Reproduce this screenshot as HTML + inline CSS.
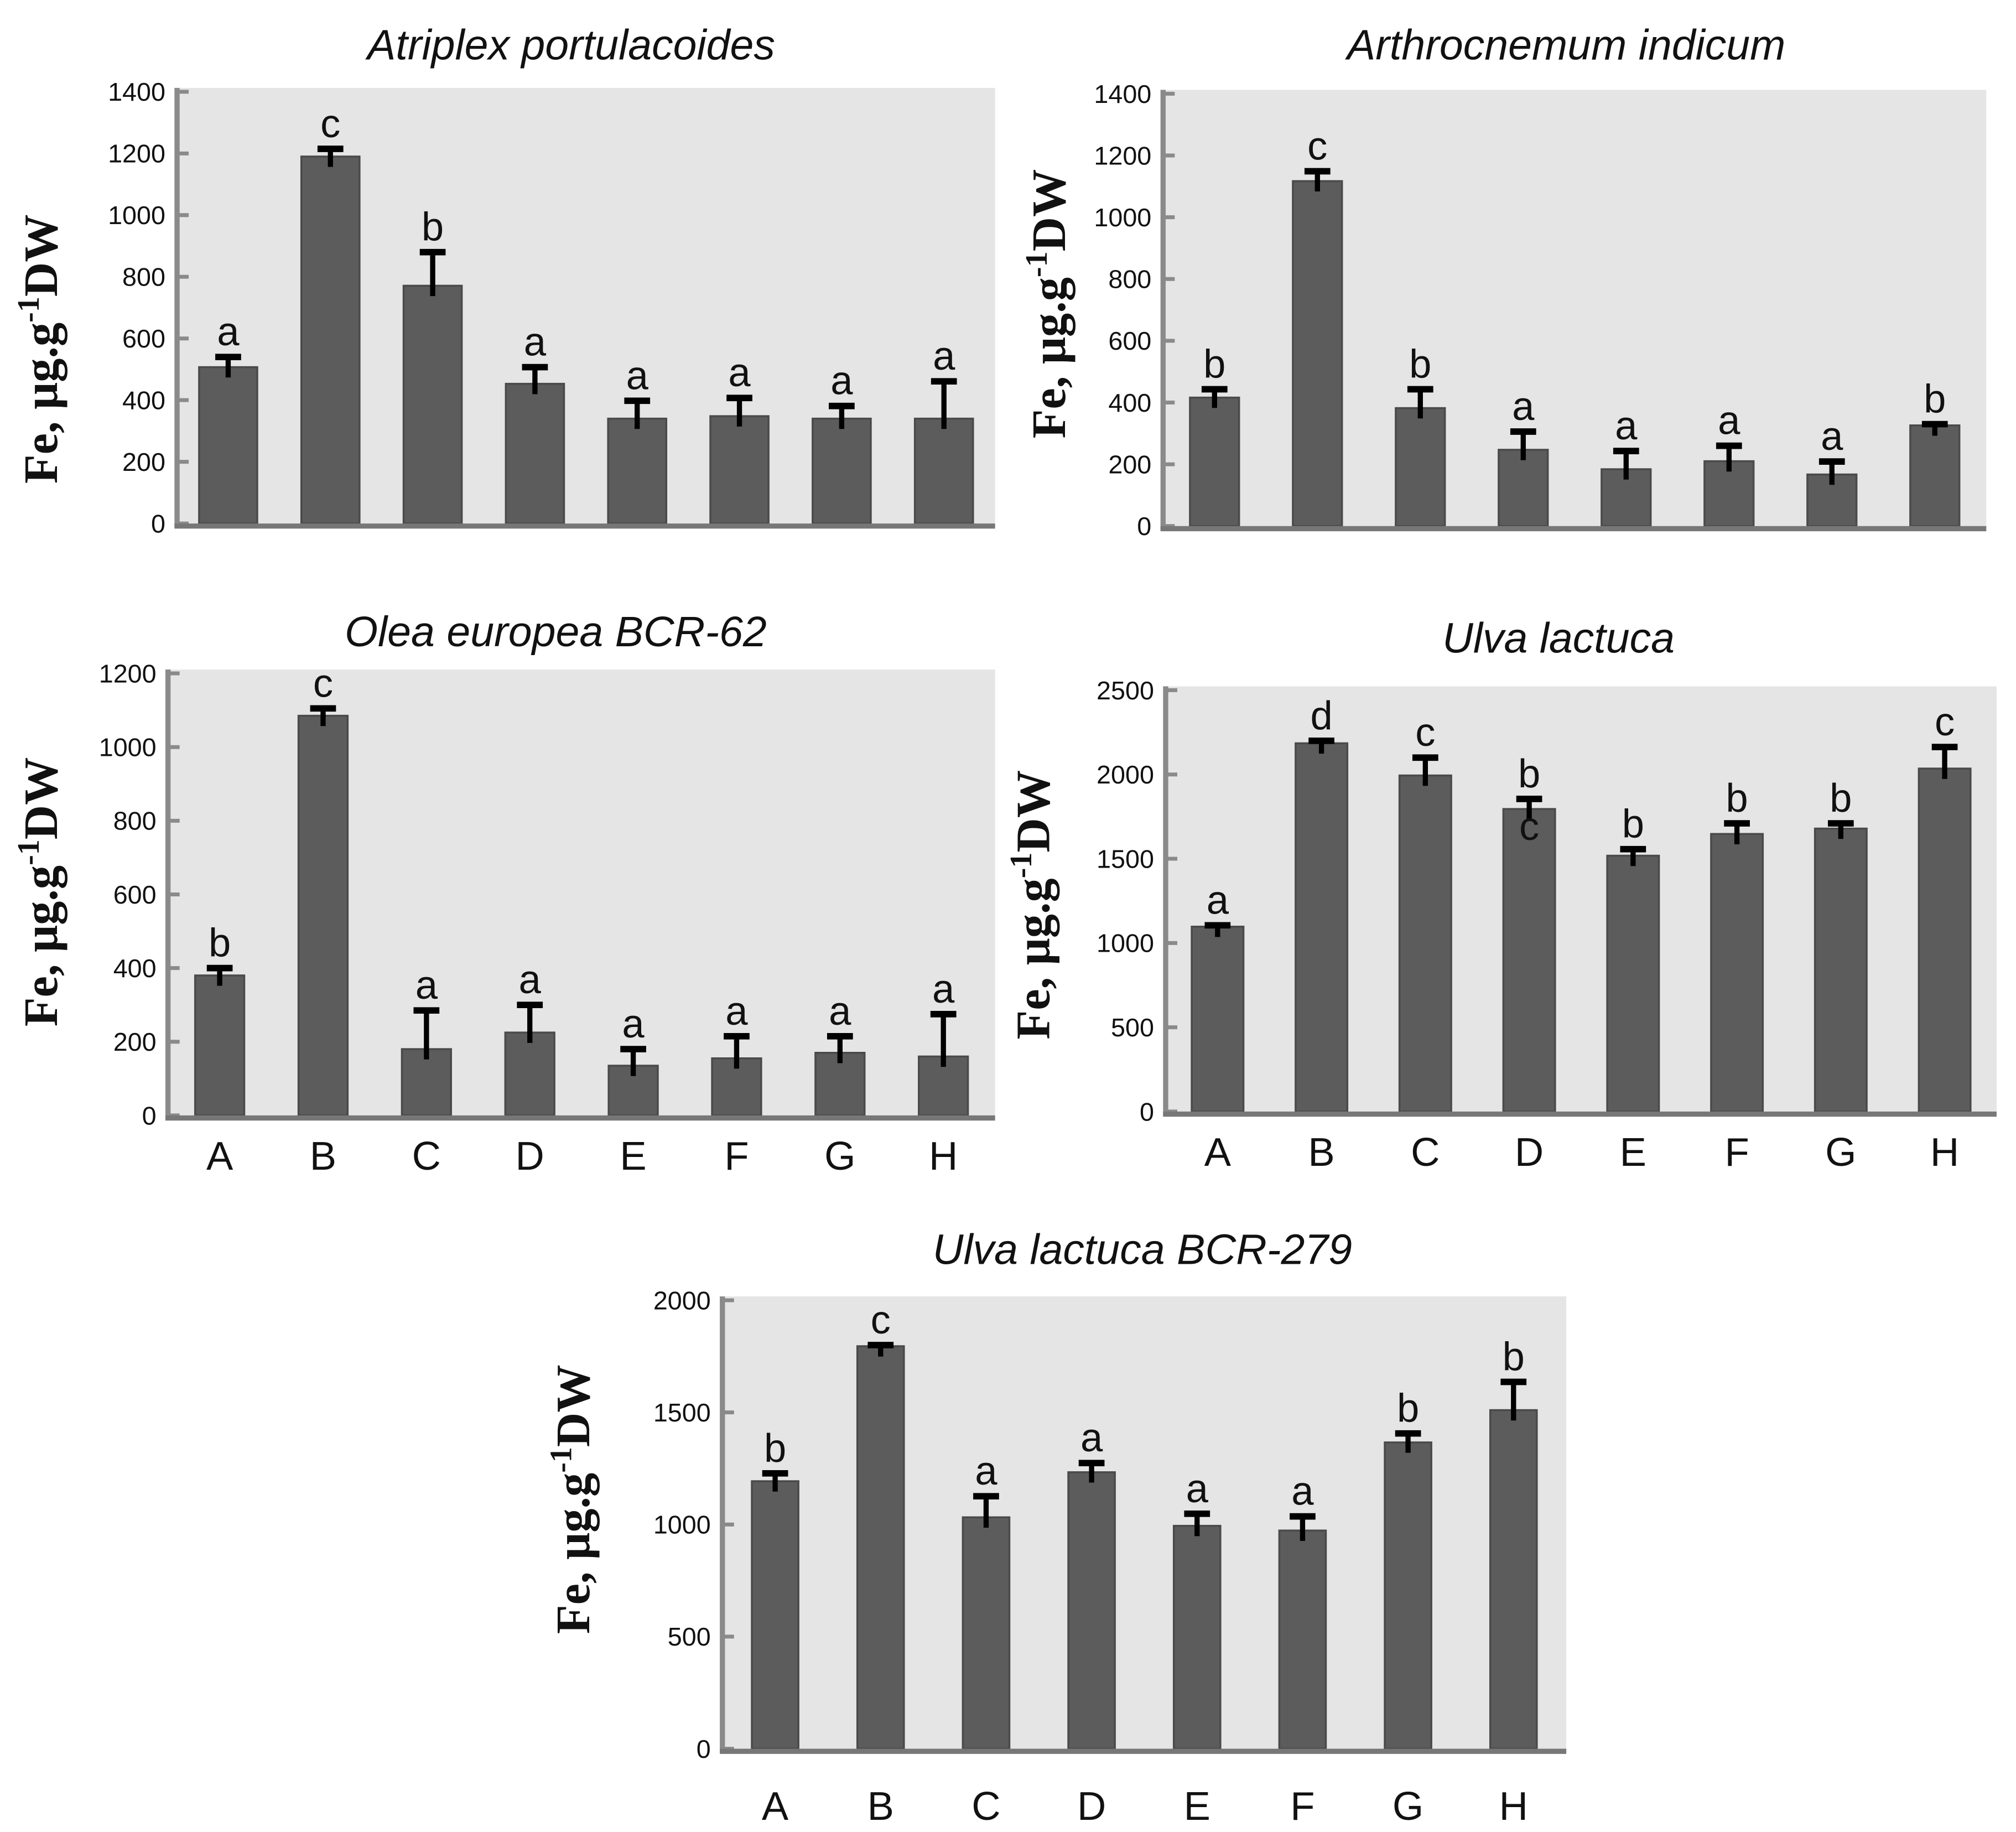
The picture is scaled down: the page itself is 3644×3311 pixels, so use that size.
<!DOCTYPE html>
<html><head><meta charset="utf-8"><style>
html,body{margin:0;padding:0;background:#fff;}
svg{display:block;}
.tick{font-family:"Liberation Sans",sans-serif;font-size:20px;fill:#111;}
.let{font-family:"Liberation Sans",sans-serif;font-size:31px;fill:#111;}
.xl{font-family:"Liberation Sans",sans-serif;font-size:31px;fill:#111;}
.ttl{font-family:"Liberation Sans",sans-serif;font-size:33px;font-style:italic;fill:#111;}
.yt{font-family:"Liberation Serif",serif;font-size:37px;font-weight:bold;fill:#111;}
</style></head><body>
<svg id="fig" width="3644" height="3311" viewBox="0 0 1560 1417.4" xmlns="http://www.w3.org/2000/svg"></svg>
<script>
const categories = ["A","B","C","D","E","F","G","H"];
const p1Values = [507,1190,771,453,340,348,340,340];
const p1Err = [540,1215,880,507,398,407,381,461];
const p1Letters = ["a","c","b","a","a","a","a","a"];
const p1Ticks = [0,200,400,600,800,1000,1200,1400];
const p2Values = [416,1117,382,247,184,210,167,326];
const p2Err = [443,1149,443,306,243,260,209,330];
const p2Letters = ["b","c","b","a","a","a","a","b"];
const p2Ticks = [0,200,400,600,800,1000,1200,1400];
const p3Values = [380,1085,180,225,135,155,170,160];
const p3Err = [400,1105,285,300,180,215,215,275];
const p3Letters = ["b","c","a","a","a","a","a","a"];
const p3Ticks = [0,200,400,600,800,1000,1200];
const p4Values = [1097,2185,1994,1795,1518,1647,1679,2035];
const p4Err = [1105,2200,2100,1855,1557,1710,1710,2163];
const p4Letters = ["a","d","c","b","b","b","b","c"];
const p4Ticks = [0,500,1000,1500,2000,2500];
const p5Values = [1193,1795,1032,1233,994,973,1366,1510];
const p5Err = [1228,1800,1126,1274,1048,1036,1406,1636];
const p5Letters = ["b","c","a","a","a","a","b","b"];
const p5Ticks = [0,500,1000,1500,2000];

const NS="http://www.w3.org/2000/svg";
const svg=document.getElementById('fig');
function mk(tag,attrs,parent){const e=document.createElementNS(NS,tag);for(const k in attrs)e.setAttribute(k,attrs[k]);(parent||svg).appendChild(e);return e;}

const panels=[
 {id:"atriplex",title:"Atriplex portulacoides",tx:442,ty:46,left:137,right:770,y0:405,ytop:71,max:1400,bw:45,vals:p1Values,err:p1Err,lets:p1Letters,ticks:p1Ticks,xlab:false,ytx:44,yty:270,extra:null},
 {id:"arthrocnemum",title:"Arthrocnemum indicum",tx:1212,ty:46,left:900,right:1537,y0:407,ytop:72.5,max:1400,bw:38,vals:p2Values,err:p2Err,lets:p2Letters,ticks:p2Ticks,xlab:false,ytx:824,yty:235,extra:null},
 {id:"olea",title:"Olea europea BCR-62",tx:430,ty:500,left:130,right:770,y0:863,ytop:521,max:1200,bw:38,vals:p3Values,err:p3Err,lets:p3Letters,ticks:p3Ticks,xlab:true,xly:905,ytx:44,yty:690,extra:null},
 {id:"ulva",title:"Ulva lactuca",tx:1206,ty:505,left:902,right:1545,y0:860,ytop:534,max:2500,bw:40,vals:p4Values,err:p4Err,lets:p4Letters,ticks:p4Ticks,xlab:true,xly:902,ytx:812,yty:700,extra:{i:3,t:"c"}},
 {id:"ulva-bcr279",title:"Ulva lactuca BCR-279",tx:884,ty:978,left:559,right:1212,y0:1353,ytop:1006,max:2000,bw:36,vals:p5Values,err:p5Err,lets:p5Letters,ticks:p5Ticks,xlab:true,xly:1408,ytx:456,yty:1160,extra:null}
];

panels.forEach(p=>{
 const g=mk('g',{});
 
 
 const y=v=>p.y0-(v/p.max)*(p.y0-p.ytop);
 const band=(p.right-p.left)/8;
 const xc=i=>p.left+(i+0.5)*band;
 const bg=mk('rect',{x:p.left,y:p.ytop-3,width:p.right-p.left,height:p.y0-p.ytop+3,fill:"#e5e5e5"},g);
 
 
 const t=mk('text',{x:p.tx,y:p.ty,'text-anchor':'middle',class:'ttl'},g);
 t.textContent=p.title;
 
 
 p.ticks.forEach(v=>{
  const tk=mk('line',{x1:p.left,x2:p.left+9,y1:y(v),y2:y(v),stroke:"#8a8a8a","stroke-width":3},g);
  
  
  const tl=mk('text',{x:p.left-9,y:y(v)+7,'text-anchor':'end',class:'tick'},g);
  tl.textContent=v;
  
  
 });
 categories.forEach((c,i)=>{
  const v=p.vals[i],e=p.err[i];
  const b=mk('rect',{x:xc(i)-p.bw/2,y:y(v),width:p.bw,height:p.y0-y(v),fill:"#5c5c5c",stroke:"#4a4a4a","stroke-width":1.5},g);
  
  
  const el=mk('line',{x1:xc(i),x2:xc(i),y1:y(v)+8,y2:y(e),stroke:"#000","stroke-width":4},g);
  
  
  const cap=mk('line',{x1:xc(i)-10,x2:xc(i)+10,y1:y(e),y2:y(e),stroke:"#000","stroke-width":5},g);
  
  
  const lt=mk('text',{x:xc(i),y:y(e)-9,'text-anchor':'middle',class:'let'},g);
  lt.textContent=p.lets[i];
  
  
  if(p.xlab){
   const xl=mk('text',{x:xc(i),y:p.xly,'text-anchor':'middle',class:'xl'},g);
   xl.textContent=c;
   
   
  }
 });
 if(p.extra){
  const ex=mk('text',{x:xc(p.extra.i),y:y(p.vals[p.extra.i])+24,'text-anchor':'middle',class:'let'},g);
  ex.textContent=p.extra.t;
  
  
 }
 const ya=mk('line',{x1:p.left,x2:p.left,y1:p.ytop-3,y2:p.y0+3,stroke:"#8a8a8a","stroke-width":4},g);
 
 
 const xa=mk('line',{x1:p.left-2,x2:p.right,y1:p.y0+2,y2:p.y0+2,stroke:"#777","stroke-width":4},g);
 
 
 const yt=mk('text',{x:0,y:0,'text-anchor':'middle',class:'yt',transform:`translate(${p.ytx},${p.yty}) rotate(-90)`},g);
 
 
 const s1=mk('tspan',{},yt);s1.textContent="Fe, μg.g";
 const s2=mk('tspan',{dy:-14,'font-size':24},yt);s2.textContent="-1";
 const s3=mk('tspan',{dy:14},yt);s3.textContent="DW";
});
</script>
</body></html>
